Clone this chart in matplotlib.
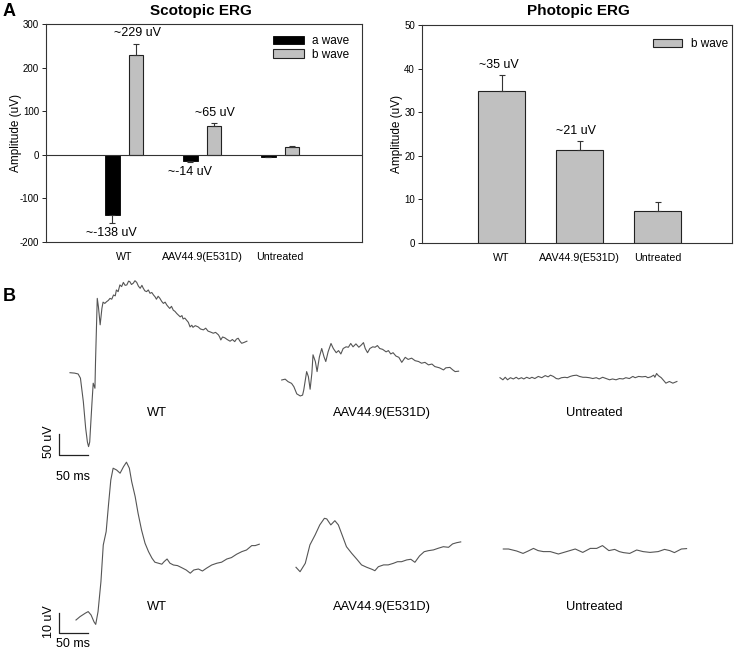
import numpy as np
import matplotlib.pyplot as plt

plt.rcParams['font.family'] = ['Liberation Sans', 'DejaVu Sans']
plt.rcParams['axes.unicode_minus'] = False

W, H = 738, 653

# ---- panel A data ----
groups = ['WT', 'AAV44.9(E531D)', 'Untreated']
scot_a = [-138, -14, -4]
scot_a_err = [18, 3, 1]
scot_b = [229, 65, 19]
scot_b_err = [26, 7, 1.5]
scot_a_labels = ['~-138 uV', '~-14 uV', '']
scot_b_labels = ['~229 uV', '~65 uV', '']
phot_b = [34.8, 21.3, 7.4]
phot_b_err = [3.7, 2.0, 1.9]
phot_labels = ['~35 uV', '~21 uV', '']

# ---- panel B traces: (ms, uV) relative to first sample ----
scot_wt = [(0, 0), (8, -1), (14, -3), (18, -13), (23, -69), (27, -132), (30, -165), (32, -176),
           (34, -165), (35, -140), (38, -69), (40, -25), (43, -37), (44, 26), (47, 177), (49, 157),
           (52, 114), (55, 153), (57, 168), (60, 165), (63, 169), (66, 172), (69, 177), (72, 175),
           (75, 185), (78, 183), (80, 197), (83, 193), (86, 209), (89, 205), (92, 215), (95, 208),
           (98, 209), (101, 218), (103, 217), (106, 210), (109, 213), (112, 219), (115, 215),
           (118, 206), (121, 201), (124, 208), (126, 202), (129, 195), (132, 193), (135, 197),
           (138, 189), (141, 191), (144, 185), (147, 180), (149, 175), (152, 182), (155, 177),
           (158, 170), (161, 165), (164, 168), (167, 161), (170, 156), (172, 153), (175, 158),
           (178, 149), (181, 146), (184, 141), (187, 137), (190, 133), (193, 136), (195, 128),
           (198, 130), (201, 125), (204, 120), (207, 109), (210, 113), (212, 108), (216, 112),
           (221, 109), (225, 104), (230, 102), (234, 106), (238, 99), (242, 97), (247, 94),
           (251, 96), (256, 90), (258, 85), (260, 78), (263, 85), (267, 83), (271, 79), (276, 75),
           (280, 79), (284, 74), (287, 80), (290, 82), (293, 75), (296, 70), (300, 72), (305, 75)]
scot_aav = [(0, 0), (6, 2), (11, -4), (17, -8), (21, -16), (26, -33), (32, -38), (36, -36),
            (38, -24), (43, 20), (46, 8), (49, -22), (52, 16), (54, 60), (58, 44), (61, 20),
            (65, 55), (69, 75), (73, 55), (76, 44), (80, 67), (85, 87), (89, 75), (94, 65),
            (98, 70), (102, 62), (106, 75), (111, 79), (115, 78), (119, 87), (123, 79), (128, 86),
            (133, 78), (137, 83), (141, 89), (144, 75), (148, 65), (152, 75), (157, 79), (161, 78),
            (165, 82), (169, 75), (174, 73), (180, 67), (184, 70), (188, 62), (192, 65), (197, 57),
            (202, 54), (207, 42), (213, 54), (218, 49), (224, 52), (230, 46), (236, 44), (241, 40),
            (247, 42), (253, 36), (259, 38), (264, 32), (272, 29), (279, 24), (283, 29), (290, 30),
            (295, 24), (299, 20), (305, 21)]
scot_untr = [(0, 0), (5, -5), (9, 1), (13, -5), (18, 0), (23, -3), (28, 1), (32, -3), (37, 0),
             (41, -3), (46, 1), (51, -2), (55, 1), (60, -2), (66, 3), (72, 0), (78, 5), (83, 2),
             (87, 6), (92, 3), (97, -2), (101, -3), (106, 0), (112, 1), (116, 0), (121, 3),
             (126, 5), (132, 6), (137, 3), (143, 1), (148, 1), (154, 0), (160, -2), (166, 0),
             (171, -3), (177, 1), (183, -2), (189, -5), (194, -3), (200, -5), (206, -2), (212, -3),
             (217, 0), (223, -2), (229, 3), (233, 0), (239, 3), (245, 2), (251, 3), (255, 0),
             (260, 2), (265, 6), (267, 1), (270, 10), (273, 5), (278, 0), (283, -8), (286, -13),
             (292, -9), (298, -13), (305, -9)]
phot_wt = [(0, 0), (7, 1.7), (16, 3.4), (21, 4.2), (26, 2.5), (31, -0.9), (34, -2.2), (38, 4.2),
           (43, 19.2), (47, 37.5), (52, 44.2), (56, 57.5), (60, 70), (64, 75.9), (70, 75),
           (76, 73.4), (82, 76.7), (87, 78.9), (92, 75.9), (96, 69.2), (102, 61.7), (107, 53.4),
           (113, 45), (119, 38.4), (125, 34.2), (131, 30.9), (136, 28.9), (142, 28.4), (148, 27.9),
           (152, 29.2), (157, 30.5), (162, 28.4), (168, 27.5), (175, 27.2), (182, 26.2), (190, 25),
           (197, 23.4), (203, 25), (211, 25.5), (218, 24.5), (225, 25.9), (234, 27.5), (243, 28.4),
           (251, 28.9), (260, 30.5), (268, 31.2), (277, 32.9), (286, 34.2), (294, 35), (303, 37.2),
           (309, 37.2), (316, 37.9)]
phot_aav = [(0, 0), (7, -2.2), (16, 2), (24, 11.2), (33, 16.2), (41, 21.2), (49, 24.5), (53, 24.2),
            (60, 21.2), (67, 23.3), (73, 21.2), (81, 15), (87, 10.3), (96, 7), (105, 4), (113, 1.2),
            (122, 0), (131, -1), (136, -1.7), (142, 0.3), (151, 1.2), (159, 1.2), (168, 2),
            (175, 2.8), (182, 2.8), (191, 3.7), (198, 4), (205, 2.5), (213, 5.7), (221, 7.8),
            (228, 8.3), (237, 8.7), (245, 9.5), (254, 10.3), (263, 10), (270, 11.7), (277, 12.3),
            (284, 12.7)]
phot_untr = [(0, 0), (9, 0), (23, -1), (34, -2.2), (43, -1), (52, 0.3), (60, -0.8), (69, -1.3),
             (81, -1.3), (95, -2.5), (109, -1.3), (124, 0), (137, -1.7), (150, 0.3), (161, 0.3),
             (171, 1.7), (182, -0.8), (192, -0.2), (200, -1.3), (207, -1.8), (218, -2.2),
             (230, -0.5), (241, -1.3), (253, -1.7), (267, -1.3), (278, -0.2), (287, -0.8),
             (295, -1.8), (307, 0), (316, 0.2)]


def rect(x0, y0, x1, y1):
    return [x0 / W, 1 - y1 / H, (x1 - x0) / W, (y1 - y0) / H]


def ftext(x, y, s, **kw):
    fig.text(x / W, 1 - y / H, s, **kw)


def style_axes(ax):
    for sp in ax.spines.values():
        sp.set_linewidth(0.8)
        sp.set_color('#333333')
    ax.tick_params(axis='y', direction='out', length=3, width=0.6, labelsize=7, pad=2)
    ax.tick_params(axis='x', length=0, labelsize=7.7, pad=7)


fig = plt.figure(figsize=(W / 100, H / 100), dpi=100)
x = np.arange(len(groups))
gray = '#c0c0c0'

# ---- Scotopic ERG ----
ax1 = fig.add_axes(rect(46, 24, 362, 242))
ax1.bar(x - 0.15, scot_a, 0.185, color='black', edgecolor='black', lw=0.6, label='a wave')
ax1.bar(x + 0.15, scot_b, 0.185, color=gray, edgecolor='#222222', lw=0.8, label='b wave')
ax1.errorbar(x - 0.15, scot_a, yerr=[scot_a_err, [0] * 3], fmt='none', ecolor='#333333',
             elinewidth=0.8, capsize=2.5, capthick=0.8)
ax1.errorbar(x + 0.15, scot_b, yerr=[[0] * 3, scot_b_err], fmt='none', ecolor='#333333',
             elinewidth=0.8, capsize=2.5, capthick=0.8)
ax1.axhline(0, color='#333333', lw=0.8)
for i in range(len(groups)):
    if scot_b_labels[i]:
        ax1.annotate(scot_b_labels[i], (x[i] + 0.17, scot_b[i] + scot_b_err[i]), xytext=(0, 3),
                     textcoords='offset points', ha='center', va='bottom', fontsize=9)
    if scot_a_labels[i]:
        ax1.annotate(scot_a_labels[i], (x[i] - 0.16, scot_a[i] - scot_a_err[i]), xytext=(0, -3),
                     textcoords='offset points', ha='center', va='top', fontsize=9)
ax1.set_xlim(-1.0, 3.05)
ax1.set_ylim(-200, 300)
ax1.set_yticks([-200, -100, 0, 100, 200, 300])
ax1.set_xticks(x)
ax1.set_xticklabels(groups)
ax1.set_ylabel('Amplitude (uV)', fontsize=8.5, labelpad=-2)
style_axes(ax1)
ax1.legend(loc='upper left', bbox_to_anchor=(0.718, 0.95), frameon=False, fontsize=8.5,
           handlelength=2.6, handleheight=0.7, handletextpad=0.7, labelspacing=0.15,
           borderpad=0, borderaxespad=0)

# ---- Photopic ERG ----
ax2 = fig.add_axes(rect(422, 25, 732, 243))
ax2.bar(x, phot_b, 0.6, color=gray, edgecolor='#222222', lw=0.8, label='b wave')
ax2.errorbar(x, phot_b, yerr=[[0] * 3, phot_b_err], fmt='none', ecolor='#333333',
             elinewidth=0.8, capsize=2.5, capthick=0.8)
for i in range(len(groups)):
    if phot_labels[i]:
        ax2.annotate(phot_labels[i], (x[i] - 0.04, phot_b[i] + phot_b_err[i]), xytext=(0, 3),
                     textcoords='offset points', ha='center', va='bottom', fontsize=9)
ax2.set_xlim(-1.02, 2.955)
ax2.set_ylim(0, 50)
ax2.set_yticks([0, 10, 20, 30, 40, 50])
ax2.set_xticks(x)
ax2.set_xticklabels(groups)
ax2.set_ylabel('Amplitude (uV)', fontsize=8.5, labelpad=1)
style_axes(ax2)
ax2.legend(loc='upper left', bbox_to_anchor=(0.745, 0.94), frameon=False, fontsize=8.5,
           handlelength=2.5, handleheight=0.7, handletextpad=0.7, borderpad=0, borderaxespad=0)

ftext(201, 11, 'Scotopic ERG', ha='center', va='center', fontsize=11, fontweight='bold')
ftext(578, 11, 'Photopic ERG', ha='center', va='center', fontsize=11, fontweight='bold')
ftext(3, 12, 'A', ha='left', va='center', fontsize=13, fontweight='bold')
ftext(3, 297, 'B', ha='left', va='center', fontsize=13, fontweight='bold')

# ---- panel B: traces ----
px_per_ms = 0.58
rows = [
    # axes pixel box, px per uV, traces with origin pixel, scale bar corner, bar uV
    dict(box=(0, 270, 738, 490), px_uv=0.42, bar_uv=50, bar_px=(59, 455),
         traces=[(scot_wt, 70, 372.7), (scot_aav, 281.7, 380), (scot_untr, 500, 377.7)],
         label_y=413, bar_label_y=(442, 477), uv_label='50 uV'),
    dict(box=(0, 450, 738, 653), px_uv=2.0, bar_uv=10, bar_px=(59, 633),
         traces=[(phot_wt, 76, 620), (phot_aav, 296, 567.3), (phot_untr, 503.3, 549)],
         label_y=607, bar_label_y=(622, 644), uv_label='10 uV'),
]
label_x = [157, 382, 594]

for row in rows:
    x0, y0, x1, y1 = row['box']
    ax = fig.add_axes(rect(x0, y0, x1, y1))
    ax.patch.set_alpha(0)
    ax.axis('off')
    ax.set_xlim(0, (x1 - x0) / px_per_ms)
    ax.set_ylim(0, (y1 - y0) / row['px_uv'])
    for trace, ox, oy in row['traces']:
        t, v = np.array(trace, dtype=float).T
        ax.plot(t + ox / px_per_ms, v + (y1 - oy) / row['px_uv'], color='#555555', lw=0.8)
    bx = row['bar_px'][0] / px_per_ms
    by = (y1 - row['bar_px'][1]) / row['px_uv']
    ax.plot([bx, bx, bx + 50], [by + row['bar_uv'], by, by], color='#222222', lw=0.9)
    for name, lx in zip(groups, label_x):
        ftext(lx, row['label_y'], name, ha='center', va='center', fontsize=9.3)
    ftext(49, row['bar_label_y'][0], row['uv_label'], ha='center', va='center', fontsize=9,
          rotation=90)
    ftext(73, row['bar_label_y'][1], '50 ms', ha='center', va='center', fontsize=9)

fig.savefig('out.png', dpi=100)
